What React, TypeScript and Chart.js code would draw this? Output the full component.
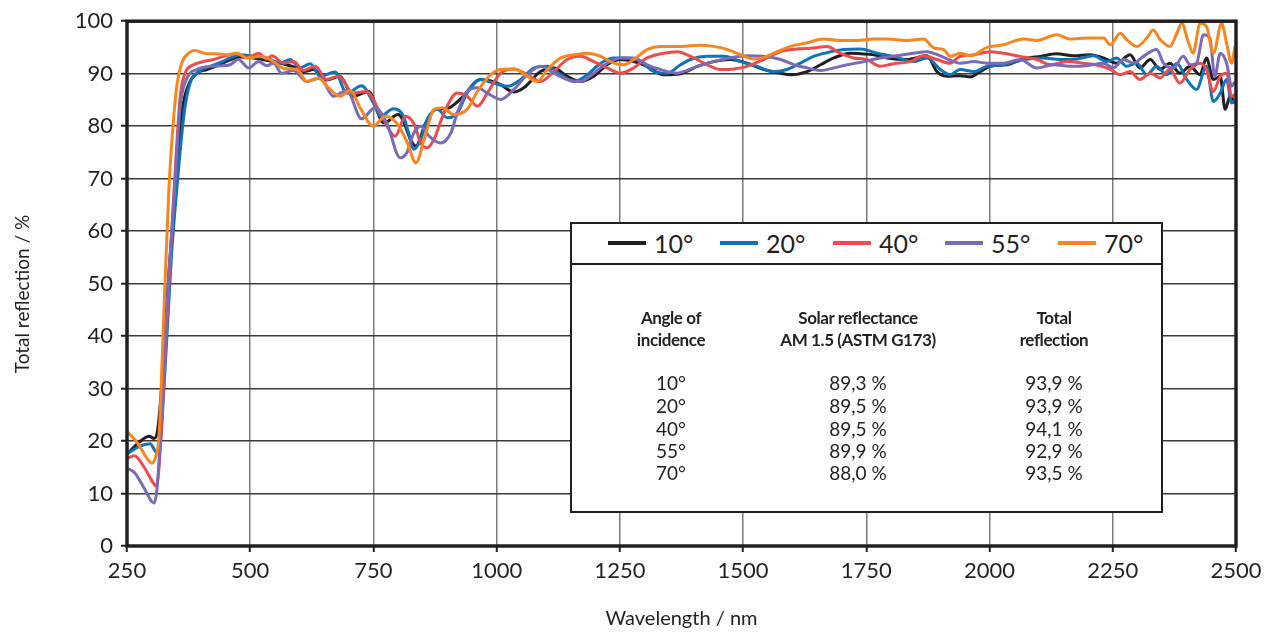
import React, { useEffect, useRef } from "react";
import { Chart, registerables } from "chart.js";

Chart.register(...registerables);

const FONT = "Lato, 'Open Sans', 'DejaVu Sans', sans-serif";
const TEXT = "#231f20";

// ---- data ----
const angles = ["10°", "20°", "40°", "55°", "70°"];
const colors = ["#231f20", "#0f75b8", "#ee4b4b", "#7a6ab8", "#f7861f"];
const solarReflectance = ["89,3 %", "89,5 %", "89,5 %", "89,9 %", "88,0 %"];
const totalReflection = ["93,9 %", "93,9 %", "94,1 %", "92,9 %", "93,5 %"];
const xTicks = [250, 500, 750, 1000, 1250, 1500, 1750, 2000, 2250, 2500];
const yTicks = [0, 10, 20, 30, 40, 50, 60, 70, 80, 90, 100];

const wl10 = [250,275,295,305,312,320,335,350,361,375,392,412,432,453,480,507,534,561,588,610,628,655,682,709,740,771,800,836,856,876,900,930,967,988,1008,1035,1055,1089,1116,1143,1170,1197,1224,1251,1278,1305,1339,1373,1407,1440,1474,1508,1542,1576,1596,1630,1657,1684,1718,1738,1765,1792,1832,1873,1893,1913,1940,1961,1981,2001,2035,2076,2103,2136,2170,2204,2231,2258,2285,2305,2326,2346,2366,2386,2407,2427,2440,2454,2468,2478,2488,2498];
const r10 = [17.5,19.8,20.9,20.5,22,30,52,70,82.5,87.9,90.1,90.8,91.5,92.4,93.2,93,92.5,92,91.3,90.4,90.8,88.8,89.5,85.7,86.6,80.6,82.2,76.2,80.6,83.2,83.4,85.5,88.9,88.6,87.9,86.5,87.3,90.4,91.1,89.5,88.5,89.5,91.7,92.7,92.3,91.4,89.8,90,91.4,92.3,92.7,92,90.8,90.1,89.8,90.4,91.7,93,93.9,93.8,93.6,93,92.7,93.4,90.4,89.5,89.6,89.4,90.4,91.4,91.7,93,93.3,93.8,93.4,93.6,93,92,93.6,91.1,92.7,90.8,92,90.1,91.4,89.8,93,88.9,89.5,83.2,85.7,84.4];

const wl20 = [250,275,297,308,315,325,340,351,366,378,395,419,443,459,480,507,534,561,581,601,622,642,672,696,726,750,764,791,811,819,832,846,859,880,900,920,940,967,994,1022,1049,1076,1103,1130,1157,1184,1211,1238,1265,1292,1319,1346,1373,1393,1427,1461,1495,1528,1562,1589,1616,1643,1670,1704,1738,1772,1805,1846,1873,1900,1920,1940,1968,1995,2028,2069,2109,2143,2177,2211,2238,2258,2278,2299,2319,2339,2359,2380,2400,2420,2440,2454,2468,2481,2491,2498];
const r20 = [17.5,19,19.5,18,17.8,30,55,68,82.5,88.2,90.4,91.4,92.3,93,93.6,93.3,93,92,92.7,91.1,91.9,89.5,90.3,86.3,87.7,84.4,81.9,83.3,81.9,79.4,75.6,77.5,81.3,83.2,81.6,82.5,86.3,88.9,88.2,87.6,88.9,91.1,91.4,89.8,88.5,89.8,92,93,93,92.3,90.4,90.1,91.7,92.7,93.3,93.3,92.3,91.4,90.4,90.8,92,93.3,94,94.6,94.7,93.9,93.3,92.3,93,90.8,89.8,90.8,90.4,91.4,91.7,92.7,93,92.7,92.8,93.4,92.3,93,91.4,92,89.8,91.4,89.8,92,88.9,87,91.4,84.7,86.3,88.9,84.4,85];

const wl40 = [250,265,285,300,309,315,325,335,345,358,368,385,405,426,446,473,493,517,534,544,568,588,608,632,655,679,709,736,764,794,815,832,846,859,873,893,920,940,961,981,1008,1035,1062,1089,1116,1143,1170,1197,1224,1251,1278,1305,1339,1366,1400,1427,1454,1481,1508,1542,1576,1609,1643,1670,1697,1724,1751,1778,1805,1839,1866,1893,1920,1940,1968,2001,2028,2062,2096,2123,2157,2190,2224,2245,2265,2285,2305,2326,2346,2366,2386,2407,2427,2440,2454,2468,2481,2491,2498];
const r40 = [16.7,17.2,15,12.5,11.4,15,32,50,67,85.7,90.1,91.7,92.3,92.7,93.3,93.8,93,93.9,92.8,93.4,92,92.3,90.6,91.4,88.9,89.5,86.3,86.6,82.5,78.1,81.9,80.5,76.8,75.9,77.5,82.5,86.3,85.7,83.8,86.3,90.1,90.9,89.8,88.5,90.4,92.7,93.3,92.3,91.1,90.1,91.1,93,93.9,94.2,93,91.7,90.8,90.9,91.4,92.7,94.2,94.7,94.9,95.2,93.9,93,92.7,91.4,91.9,92.3,93.4,92.7,92,93.3,93.6,94.2,93.9,93.3,92.7,91.7,92.3,92,91.5,90.8,89.8,90.4,88.9,90.1,89.2,90.8,88.2,90.8,92,90.8,86.6,89.5,90.1,85.7,86];

const wl55 = [250,265,285,300,305,312,320,335,346,358,372,392,419,443,459,476,497,517,534,547,564,588,615,642,669,696,726,753,777,804,818,832,846,863,886,907,920,940,961,981,1008,1035,1062,1089,1116,1143,1170,1197,1224,1251,1278,1305,1332,1366,1407,1440,1474,1508,1542,1576,1603,1630,1657,1684,1711,1745,1778,1812,1846,1873,1900,1927,1940,1968,1995,2028,2062,2096,2130,2163,2197,2231,2251,2272,2292,2312,2339,2353,2373,2393,2407,2420,2434,2447,2457,2468,2481,2491,2498];
const r55 = [14.8,14,11,8.5,8.2,12,25,52,67,83.8,89.2,90.8,91.4,91.5,91.7,92.7,91.1,92.3,91.5,92,90.1,90.6,88.5,89.2,85.7,86.8,81.4,83.5,80.6,74,75,78.7,80,78.1,76.8,78.7,82.5,86.6,87.3,86.3,85.1,87,89.8,91.4,90.1,88.9,88.5,90.1,92,93,93,91.7,90.8,90.1,91.4,92.3,93,93.4,93.3,92.7,91.7,91.1,90.6,91.1,91.7,92.3,93,93.4,93.9,94.2,93.4,92.3,92,92.3,92,92,92.7,91.1,91.7,91.4,91.5,92,91.1,92.7,92,93.3,94.6,92,91.1,93.3,91.7,92,97.4,96.8,89.5,93.9,92,87.6,88.5];

const wl70 = [250,270,290,300,308,315,325,335,345,351,361,375,388,412,432,453,473,493,520,547,568,595,615,638,659,682,703,723,750,774,797,819,836,853,873,890,913,940,961,988,1008,1035,1062,1082,1103,1130,1157,1184,1211,1238,1258,1278,1305,1332,1373,1413,1440,1468,1495,1522,1542,1569,1596,1630,1663,1697,1731,1765,1792,1832,1866,1887,1907,1920,1940,1961,1995,2028,2069,2096,2136,2163,2197,2231,2245,2265,2278,2299,2319,2332,2346,2366,2380,2390,2403,2413,2427,2440,2454,2471,2481,2491,2498];
const r70 = [21.8,19.8,16.8,15.8,17,21,45,68,82,87.6,92,93.9,94.4,93.8,93.8,93.6,93.9,93,93.3,92.3,91,90.8,88.5,89.2,87.3,85.7,86.8,83.5,80,81.9,80.6,76.8,73,77.5,83.2,83.5,82.2,83.2,86.6,89.8,90.8,90.9,89.5,88.5,90.8,93,93.6,93.9,93.3,92,91.7,92.7,94.6,95.2,95.2,95.4,95.2,94.6,93.6,92.8,93.1,94.2,95.2,95.9,96.6,96.3,96.3,96.6,96.6,96.3,96.6,94.9,94.6,93.3,93.9,93.4,95,95.5,96.6,96.3,97.4,96.6,96.8,96.8,95.5,97.7,96.5,95.2,96.8,98.3,96.5,95.2,97.7,99.6,96.1,93.9,99.6,99,93.9,99.6,95.8,92,95.2];

const seriesWl = [wl10, wl20, wl40, wl55, wl70];
const seriesR = [r10, r20, r40, r55, r70];
const drawOrder = [5, 4, 3, 2, 1];

const framePlugin = {
  id: "frame",
  afterDatasetsDraw(chart: any) {
    const { ctx, chartArea } = chart;
    ctx.save();
    ctx.strokeStyle = TEXT;
    ctx.lineWidth = 3.5;
    ctx.strokeRect(chartArea.left, chartArea.top, chartArea.right - chartArea.left, chartArea.bottom - chartArea.top);
    ctx.restore();
  },
};

export default function App() {
  const canvasRef = useRef<HTMLCanvasElement | null>(null);

  useEffect(() => {
    document.body.style.margin = "0";
    const canvas = canvasRef.current;
    if (!canvas) return;
    const datasets = angles.map((a, i) => ({
      label: a,
      data: seriesWl[i].map((x, j) => ({ x, y: seriesR[i][j] })),
      borderColor: colors[i],
      backgroundColor: colors[i],
      borderWidth: 3,
      pointRadius: 0,
      fill: false,
      cubicInterpolationMode: "monotone" as const,
      order: drawOrder[i],
    }));
    const chart = new Chart(canvas, {
      type: "line",
      data: { datasets },
      plugins: [framePlugin],
      options: {
        animation: false,
        responsive: false,
        devicePixelRatio: 1,
        layout: { padding: { top: 19, right: 40, bottom: 0, left: 0 } },
        plugins: { legend: { display: false }, tooltip: { enabled: false } },
        scales: {
          x: {
            type: "linear",
            min: 250,
            max: 2500,
            afterBuildTicks: (s: any) => {
              s.ticks = xTicks.map((v) => ({ value: v }));
            },
            afterFit: (s: any) => {
              s.height = 90;
            },
            ticks: {
              color: TEXT,
              font: { family: FONT, size: 22 },
              padding: 6,
              maxRotation: 0,
              autoSkip: false,
              callback: (v: any) => String(v),
            },
            grid: {
              color: "#7a7a7a",
              lineWidth: 1.5,
              drawTicks: true,
              tickLength: 6,
              tickColor: TEXT,
              tickWidth: 2,
            },
            border: { display: false },
            title: {
              display: true,
              text: "Wavelength / nm",
              color: TEXT,
              font: { family: FONT, size: 20 },
              padding: { top: 0, bottom: 5 },
            },
          },
          y: {
            min: 0,
            max: 100,
            afterBuildTicks: (s: any) => {
              s.ticks = yTicks.map((v) => ({ value: v }));
            },
            afterFit: (s: any) => {
              s.width = 127;
            },
            ticks: {
              color: TEXT,
              font: { family: FONT, size: 22 },
              padding: 8,
              autoSkip: false,
              callback: (v: any) => String(v),
            },
            grid: {
              color: "#3a3a3a",
              lineWidth: 1.5,
              drawTicks: true,
              tickLength: 6,
              tickColor: TEXT,
              tickWidth: 2,
            },
            border: { display: false },
          },
        },
      },
    });
    return () => chart.destroy();
  }, []);

  const boxLeft = 570;
  const boxTop = 222;
  const inner = (x: number) => x - boxLeft - 2;
  const innerY = (y: number) => y - boxTop - 2;
  const legendLineX = [608, 720, 833, 945, 1058];
  const colCenters = [671, 858, 1054];
  const rowY = [383, 405.5, 429, 451, 473];
  const headerStyle: React.CSSProperties = { fontWeight: 700, fontSize: 17, letterSpacing: "-0.4px" };
  const valueStyle: React.CSSProperties = { fontSize: 19 };

  const centered = (cx: number, cy: number, text: string, style: React.CSSProperties, key: string) => (
    <div
      key={key}
      style={{
        position: "absolute",
        left: inner(cx) - 120,
        width: 240,
        top: innerY(cy) - 12,
        height: 24,
        lineHeight: "24px",
        textAlign: "center",
        whiteSpace: "nowrap",
        color: TEXT,
        fontFamily: FONT,
        ...style,
      }}
    >
      {text}
    </div>
  );

  return (
    <div style={{ position: "absolute", left: 0, top: 0, width: 1276, height: 636, background: "#fff" }}>
      <canvas ref={canvasRef} width={1276} height={636} style={{ display: "block", width: 1276, height: 636 }} />
      <div
        style={{
          position: "absolute",
          left: 22 - 150,
          top: 294 - 12,
          width: 300,
          height: 24,
          lineHeight: "24px",
          textAlign: "center",
          transform: "rotate(-90deg)",
          fontFamily: FONT,
          fontSize: 19,
          color: TEXT,
          whiteSpace: "nowrap",
        }}
      >
        Total reflection / %
      </div>
      <div
        style={{
          position: "absolute",
          left: boxLeft,
          top: boxTop,
          width: 593,
          height: 291,
          boxSizing: "border-box",
          border: `2px solid ${TEXT}`,
          background: "#fff",
        }}
      >
        {angles.map((a, i) => (
          <React.Fragment key={"lg" + i}>
            <div
              style={{
                position: "absolute",
                left: inner(legendLineX[i]),
                top: innerY(243) - 2,
                width: 38,
                height: 4,
                background: colors[i],
              }}
            />
            <div
              style={{
                position: "absolute",
                left: inner(legendLineX[i]) + 46,
                top: innerY(243) - 14,
                height: 28,
                lineHeight: "28px",
                fontFamily: FONT,
                fontSize: 25,
                color: TEXT,
                whiteSpace: "nowrap",
              }}
            >
              {a}
            </div>
          </React.Fragment>
        ))}
        <div style={{ position: "absolute", left: 0, right: 0, top: innerY(264) - 1, height: 2, background: TEXT }} />
        {centered(colCenters[0], 318, "Angle of", headerStyle, "h1a")}
        {centered(colCenters[0], 340, "incidence", headerStyle, "h1b")}
        {centered(colCenters[1], 318, "Solar reflectance", headerStyle, "h2a")}
        {centered(colCenters[1], 340, "AM 1.5 (ASTM G173)", headerStyle, "h2b")}
        {centered(colCenters[2], 318, "Total", headerStyle, "h3a")}
        {centered(colCenters[2], 340, "reflection", headerStyle, "h3b")}
        {angles.map((a, i) => centered(colCenters[0], rowY[i], a, valueStyle, "c1" + i))}
        {solarReflectance.map((a, i) => centered(colCenters[1], rowY[i], a, valueStyle, "c2" + i))}
        {totalReflection.map((a, i) => centered(colCenters[2], rowY[i], a, valueStyle, "c3" + i))}
      </div>
    </div>
  );
}
